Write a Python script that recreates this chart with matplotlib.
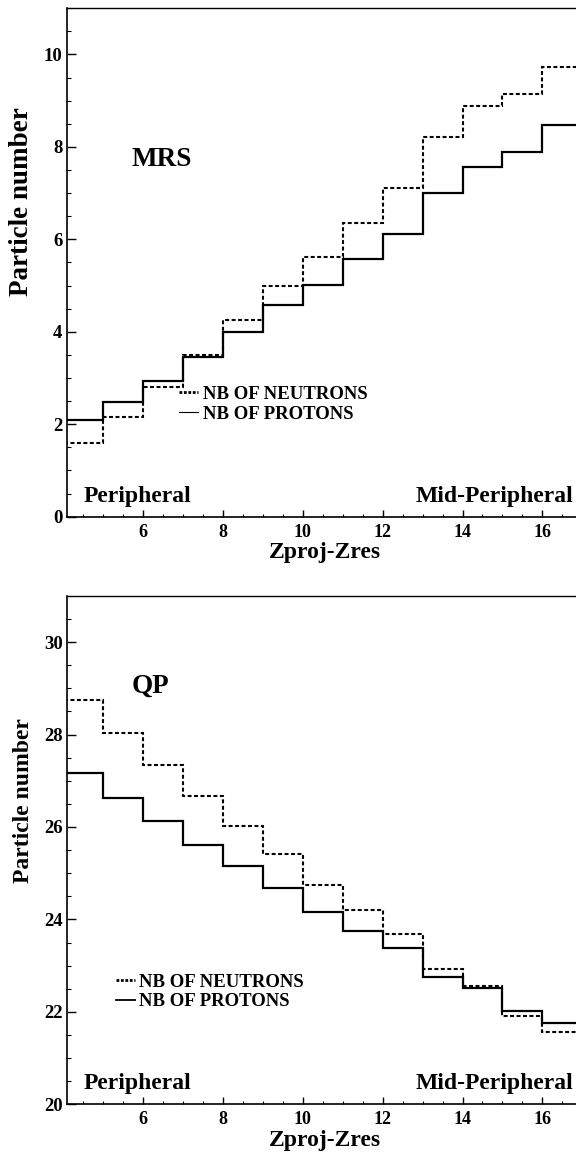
import matplotlib
matplotlib.use("Agg")
import matplotlib.pyplot as plt
from matplotlib.lines import Line2D
from matplotlib.ticker import MultipleLocator

# Bin edges in Zproj-Zres (one bin per unit charge)
z_edges = [4, 5, 6, 7, 8, 9, 10, 11, 12, 13, 14, 15, 16, 17]

# Mean multiplicities in the mid-rapidity source (MRS)
mrs_neutrons = [1.59, 2.15, 2.80, 3.50, 4.25, 4.99, 5.62, 6.35, 7.12, 8.21, 8.89, 9.15, 9.72]
mrs_protons = [2.09, 2.47, 2.94, 3.45, 4.00, 4.58, 5.02, 5.57, 6.12, 7.01, 7.57, 7.89, 8.47]

# Mean multiplicities in the quasi-projectile (QP)
qp_neutrons = [28.74, 28.03, 27.35, 26.67, 26.03, 25.42, 24.75, 24.20, 23.69, 22.93, 22.55, 21.92, 21.56]
qp_protons = [27.17, 26.63, 26.13, 25.62, 25.15, 24.68, 24.15, 23.76, 23.39, 22.76, 22.51, 22.01, 21.76]

x_ticks = [6, 8, 10, 12, 14, 16]
legend_labels = ["NB OF NEUTRONS", "NB OF PROTONS"]

plt.rcParams["font.family"] = ["Liberation Serif", "DejaVu Serif"]
plt.rcParams["font.weight"] = "bold"

fig = plt.figure(figsize=(5.76, 11.54), dpi=100)

DASH = (0, (1.9, 1.2))


def panel(rect, ylim, neutrons, protons, name, name_y, leg_x, leg_y,
          proton_handle_lw, label_y, label_size):
    ax = fig.add_axes(rect)
    ax.stairs(neutrons, z_edges, baseline=None, color="black",
              linewidth=1.5, linestyle=DASH)
    ax.stairs(protons, z_edges, baseline=None, color="black",
              linewidth=1.6, linestyle="-")
    ax.set_xlim(4.08, 17.0)
    ax.set_ylim(*ylim)

    ax.xaxis.set_major_locator(MultipleLocator(2))
    ax.xaxis.set_minor_locator(MultipleLocator(0.5))
    ax.yaxis.set_major_locator(MultipleLocator(2))
    ax.yaxis.set_minor_locator(MultipleLocator(0.5))
    ax.set_xticks(x_ticks)
    ax.tick_params(axis="x", which="major", direction="in", length=4.8,
                   width=1.0, labelsize=13, pad=5, top=False)
    ax.tick_params(axis="x", which="minor", direction="in", length=2.4,
                   width=0.8, top=False)
    ax.tick_params(axis="y", which="major", direction="in", length=6.5,
                   width=1.0, labelsize=13.5, pad=3, right=False)
    ax.tick_params(axis="y", which="minor", direction="in", length=3.1,
                   width=0.8, right=False)
    for lab in ax.get_xticklabels() + ax.get_yticklabels():
        lab.set_fontweight("bold")

    for side in ("left", "bottom", "right"):
        ax.spines[side].set_linewidth(1.2)
    ax.spines["top"].set_linewidth(1.0)

    ax.set_xlabel("Zproj-Zres", fontsize=17, fontweight="bold", labelpad=1)
    ax.set_ylabel("Particle number", fontsize=label_size, fontweight="bold")
    ax.yaxis.set_label_coords(-0.063, label_y)

    ax.text(5.71, name_y, name, fontsize=19.5, fontweight="bold",
            ha="left", va="baseline")

    y0 = ylim[0]
    ax.text(4.5, y0 + 0.32, "Peripheral", fontsize=17, fontweight="bold",
            ha="left", va="baseline")
    ax.text(16.78, y0 + 0.32, "Mid-Peripheral", fontsize=17,
            fontweight="bold", ha="right", va="baseline")

    handles = [
        Line2D([], [], color="black", linewidth=2.0, linestyle=(0, (1.0, 0.6))),
        Line2D([], [], color="black", linewidth=proton_handle_lw, linestyle="-"),
    ]
    ax.legend(handles, legend_labels, loc="center left",
              bbox_to_anchor=(leg_x, leg_y), bbox_transform=ax.transData,
              frameon=False, handlelength=1.0,
              handletextpad=0.25, labelspacing=0.15, borderpad=0,
              borderaxespad=0, prop={"weight": "bold", "size": 13.5})
    return ax


panel([0.1158, 0.5523, 0.895, 0.4406], (0, 11), mrs_neutrons, mrs_protons,
      "MRS", 7.58, 6.90, 2.43, 0.8, 0.62, 19.5)
panel([0.1158, 0.0431, 0.895, 0.4405], (20, 31), qp_neutrons, qp_protons,
      "QP", 28.9, 5.31, 22.43, 1.3, 0.598, 17)

fig.savefig("out.png", dpi=100)
